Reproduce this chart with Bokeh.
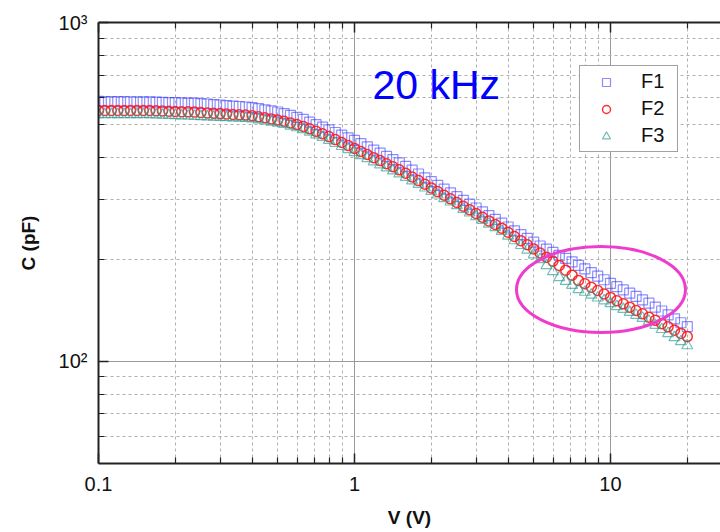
from bokeh.plotting import figure
from bokeh.models import Range1d, FixedTicker, LogAxis, Label
from bokeh.embed import file_html
from bokeh.resources import INLINE

# ---------------- data ----------------
V = [0.1, 0.1059, 0.1122, 0.1189, 0.1259, 0.1334, 0.1413, 0.1496, 0.1585, 0.1679,
     0.1778, 0.1884, 0.1995, 0.2113, 0.2239, 0.2371, 0.2512, 0.2661, 0.2818, 0.2985,
     0.3162, 0.3350, 0.3548, 0.3758, 0.3981, 0.4217, 0.4467, 0.4732, 0.5012, 0.5309,
     0.5623, 0.5957, 0.6310, 0.6683, 0.7079, 0.7499, 0.7943, 0.8414, 0.8913, 0.9441,
     1.0, 1.059, 1.122, 1.189, 1.259, 1.334, 1.413, 1.496, 1.585, 1.679,
     1.778, 1.884, 1.995, 2.113, 2.239, 2.371, 2.512, 2.661, 2.818, 2.985,
     3.162, 3.350, 3.548, 3.758, 3.981, 4.217, 4.467, 4.732, 5.012, 5.309,
     5.623, 5.957, 6.310, 6.683, 7.079, 7.499, 7.943, 8.414, 8.913, 9.441,
     10.0, 10.59, 11.22, 11.89, 12.59, 13.34, 14.13, 14.96, 15.85, 16.79,
     17.78, 18.84, 19.95]

C_F1 = [585.0, 584.6, 584.6, 584.2, 584.2, 583.8, 583.4, 583.4, 583.0, 582.2,
        581.4, 580.6, 579.9, 579.1, 578.6, 577.9, 576.7, 574.8, 572.8, 570.9,
        568.9, 567.0, 565.1, 563.2, 560.5, 556.7, 552.6, 548.4, 544.4, 538.8,
        531.9, 525.1, 517.7, 508.6, 499.7, 491.0, 482.4, 473.6, 465.3, 456.9,
        448.9, 439.2, 429.8, 420.5, 411.5, 402.6, 394.0, 385.5, 376.2, 366.6,
        357.3, 348.2, 339.5, 330.9, 322.4, 314.4, 306.4, 298.6, 291.0, 283.6,
        276.4, 269.3, 262.5, 255.8, 249.3, 242.9, 236.7, 230.7, 224.8, 219.1,
        214.4, 209.9, 205.5, 201.3, 196.7, 192.0, 187.5, 182.9, 178.5, 174.2,
        169.9, 166.2, 162.6, 159.0, 155.5, 152.0, 148.6, 144.7, 140.9, 137.2,
        133.6, 130.1, 126.7]

C_F2 = [550.3, 550.3, 550.3, 550.3, 550.3, 550.3, 550.3, 550.3, 550.3, 549.2,
        548.4, 547.3, 546.6, 545.5, 545.0, 544.0, 542.5, 541.1, 539.6, 538.5,
        537.0, 535.6, 534.1, 533.1, 530.9, 527.3, 523.4, 519.4, 515.6, 511.2,
        505.5, 499.9, 493.7, 485.6, 477.5, 469.8, 460.6, 451.3, 442.5, 433.6,
        425.2, 416.3, 407.9, 399.3, 391.3, 383.1, 375.5, 367.6, 359.0, 350.1,
        341.6, 333.2, 325.1, 317.0, 309.3, 301.8, 294.4, 287.1, 280.1, 273.2,
        266.4, 259.8, 253.6, 247.3, 240.5, 233.7, 227.2, 221.0, 214.8, 208.9,
        203.1, 197.5, 192.0, 185.9, 179.7, 173.4, 169.6, 165.6, 161.9, 158.2,
        154.5, 151.1, 147.9, 144.6, 141.4, 138.2, 135.1, 132.2, 129.3, 126.5,
        123.7, 121.0, 118.4]

C_F3 = [535.6, 535.6, 535.6, 535.6, 535.6, 535.6, 535.5, 535.5, 535.5, 534.4,
        533.7, 532.6, 532.0, 530.9, 530.4, 529.4, 528.0, 527.1, 526.2, 525.3,
        524.4, 523.5, 522.6, 521.8, 520.2, 516.6, 512.8, 508.9, 505.2, 500.9,
        495.3, 489.8, 483.7, 475.2, 466.9, 458.8, 449.5, 440.1, 431.2, 422.3,
        413.8, 405.1, 397.0, 388.6, 380.8, 372.9, 365.4, 357.8, 349.7, 341.4,
        333.3, 325.3, 317.7, 310.2, 302.8, 295.8, 288.4, 281.4, 274.5, 267.7,
        261.1, 254.6, 248.4, 242.3, 234.7, 227.3, 220.1, 213.2, 206.5, 200.0,
        191.9, 184.2, 177.0, 172.5, 167.9, 163.1, 160.2, 157.1, 154.1, 151.2,
        148.3, 145.4, 142.6, 139.7, 137.0, 134.2, 131.5, 127.9, 124.4, 121.0,
        117.7, 114.5, 111.4]

series_names = ["F1", "F2", "F3"]

x_major = [0.1, 1, 10]
x_minor = [0.2, 0.3, 0.4, 0.5, 0.6, 0.7, 0.8, 0.9,
           2, 3, 4, 5, 6, 7, 8, 9, 20]
x_labels = ["0.1", "1", "10"]
y_major = [100, 1000]
y_minor = [60, 70, 80, 90, 200, 300, 400, 500, 600, 700, 800, 900]
y_labels = ["10\u00b2", "10\u00b3"]

x_title = "V (V)"
y_title = "C (pF)"
title_text = "20 kHz"
title_pos = (1.176, 652.0)         # V, C anchor of the "20 kHz" text
highlight_center = (9.18, 163.1)   # V, C of the pink ellipse centre

FONT = "Liberation Sans"

# ---------------- figure ----------------
p = figure(width=720, height=532, x_axis_type="log", y_axis_type="log",
           x_range=Range1d(0.1, 26.9), y_range=Range1d(50, 1000),
           output_backend="svg", toolbar_location=None,
           min_border_left=98, min_border_right=0, min_border_top=22,
           min_border_bottom=69)
p.outline_line_color = None
p.background_fill_color = "white"
p.border_fill_color = "white"

bottom_axis = p.xaxis[0]
left_axis = p.yaxis[0]

xt = FixedTicker(ticks=x_major, minor_ticks=x_minor)
yt = FixedTicker(ticks=y_major, minor_ticks=y_minor)
bottom_axis.ticker = xt
left_axis.ticker = yt
p.xgrid[0].ticker = xt
p.ygrid[0].ticker = yt

bottom_axis.major_label_overrides = dict(zip(x_major, x_labels))
left_axis.major_label_overrides = dict(zip(y_major, y_labels))

top_axis = LogAxis(ticker=FixedTicker(ticks=x_major, minor_ticks=x_minor),
                   major_label_overrides={t: "" for t in x_major},
                   major_label_standoff=0)
p.add_layout(top_axis, "above")

for ax in [bottom_axis, left_axis, top_axis]:
    ax.axis_line_color = "#222222"
    ax.axis_line_width = 2
    ax.major_tick_in = 10
    ax.major_tick_out = 0
    ax.minor_tick_in = 6
    ax.minor_tick_out = 0
    ax.major_tick_line_color = "#222222"
    ax.major_tick_line_width = 1.5
    ax.minor_tick_line_color = "#222222"
    ax.minor_tick_line_width = 1.2

for ax in [bottom_axis, left_axis]:
    ax.major_label_text_font = FONT
    ax.major_label_text_font_size = "20px"
    ax.major_label_text_color = "#111111"
    ax.axis_label_text_font = FONT
    ax.axis_label_text_font_size = "19px"
    ax.axis_label_text_font_style = "bold"
    ax.axis_label_text_color = "#111111"

bottom_axis.major_label_standoff = 13
left_axis.major_label_standoff = 11
bottom_axis.axis_label = x_title
left_axis.axis_label = y_title
bottom_axis.axis_label_standoff = 13
left_axis.axis_label_standoff = 17

for g in [p.xgrid[0], p.ygrid[0]]:
    g.grid_line_color = "#999999"
    g.grid_line_width = 1
    g.minor_grid_line_color = "#b0b0b0"
    g.minor_grid_line_width = 1
    g.minor_grid_line_dash = "3 3"

# ---------------- data series ----------------
p.scatter(V, C_F1, marker="square", size=10, fill_color=None,
          line_color="#4040ff", line_alpha=0.6, line_width=1.2,
          legend_label=series_names[0])
p.scatter(V, C_F2, marker="circle", size=10, fill_color=None,
          line_color="#ff1a1a", line_alpha=0.9, line_width=1.5,
          legend_label=series_names[1])
p.scatter(V, C_F3, marker="triangle", size=11, fill_color=None,
          line_color="#2a9a94", line_alpha=0.65, line_width=1.2,
          legend_label=series_names[2])

# pink highlight ellipse
p.ellipse(x=[highlight_center[0]], y=[highlight_center[1]], width=169, height=86,
          width_units="screen", height_units="screen", fill_color=None,
          line_color="#f03ccc", line_width=3)

# "20 kHz"
p.add_layout(Label(x=title_pos[0], y=title_pos[1], text=title_text,
                   text_font=FONT, text_font_size="41px", text_color="#0000ff",
                   text_align="left", text_baseline="alphabetic"))

# ---------------- legend ----------------
lg = p.legend[0]
lg.location = (481, 311)
lg.border_line_color = "#444444"
lg.border_line_width = 1.5
lg.background_fill_color = "white"
lg.background_fill_alpha = 1.0
lg.padding = 4
lg.spacing = 4
lg.margin = 0
lg.glyph_width = 44
lg.glyph_height = 20
lg.label_height = 20
lg.label_width = 32
lg.label_standoff = 13
lg.label_text_font = FONT
lg.label_text_font_size = "20px"
lg.label_text_color = "#111111"

open("out.html", "w").write(file_html(p, INLINE))
